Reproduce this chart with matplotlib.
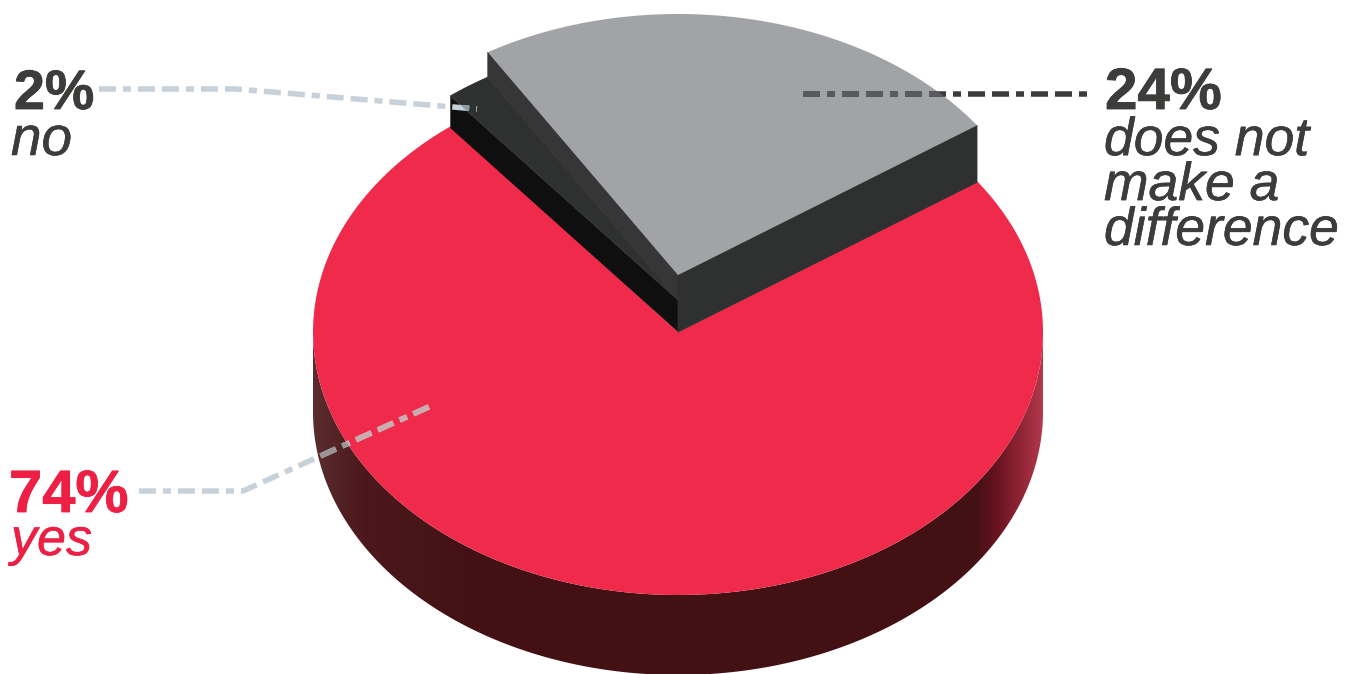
import numpy as np
import matplotlib
matplotlib.use('Agg')
import matplotlib.pyplot as plt
import matplotlib.patheffects as pe
from matplotlib.colors import LinearSegmentedColormap
from matplotlib.patches import Polygon

# chart data
categories = ['yes', 'does not\nmake a\ndifference', 'no']
values = [74, 24, 2]
pct_labels = ['74%', '24%', '2%']

plt.rcParams['font.family'] = ['Liberation Sans', 'DejaVu Sans']
plt.rcParams['lines.scale_dashes'] = False

RED = '#EF2A4A'
RED_TEXT = '#EE1F45'
GREY = '#A1A3A7'
DARK = '#2F3130'
DARK2 = '#353635'
BLACK = '#0E0F0E'
INK = '#3C3D3B'
LEAD = '#C6D1DA'

fig = plt.figure(figsize=(13.53, 6.74), dpi=100)
ax = fig.add_axes([0, 0, 1, 1])
ax.set_xlim(0, 1353)
ax.set_ylim(674, 0)
ax.axis('off')

# pie geometry in pixels
cx = 678
rx = 365
ry = 263
start = 35
red_y, grey_y, no_y = 332, 275, 300
pie_depth = 80

spans = [v / sum(values) * 360 for v in values]
grey_a = (start, start + spans[1])
no_a = (grey_a[1], grey_a[1] + spans[2])
red_a = (no_a[1], no_a[1] + spans[0])


def arc(cy, a0, a1, r_y=ry, n=300):
    t = np.radians(np.linspace(a0, a1, n))
    return np.column_stack([cx + rx * np.cos(t), cy - r_y * np.sin(t)])


def wedge(cy, a0, a1, r_y=ry):
    return np.vstack([[cx, cy], arc(cy, a0, a1, r_y)])


def cut_face(cy, angle, depth, r_y=ry):
    end = arc(cy, angle, angle, r_y, 1)[0]
    return np.array([[cx, cy], end, [end[0], end[1] + depth], [cx, cy + depth]])


# red body with its side shading
low_top = arc(red_y, 180, 360)
low_bot = arc(red_y + pie_depth, 180, 360)
side_pts = np.vstack([low_top, low_bot[::-1]])
shade = LinearSegmentedColormap.from_list('side', [
    (0.0, '#5A2C2E'), (0.07, '#4C181B'), (0.22, '#431114'), (0.91, '#431114'),
    (0.94, '#6B1421'), (0.98, '#9A2A3C'), (1.0, '#B03A4C')])
img = ax.imshow(np.linspace(0, 1, 512).reshape(1, -1), cmap=shade, aspect='auto',
                extent=(cx - rx, cx + rx, red_y + pie_depth + ry, red_y), zorder=1)
side_patch = Polygon(side_pts, closed=True, transform=ax.transData, fc='none', ec='none')
ax.add_patch(side_patch)
img.set_clip_path(side_patch)
ax.set_xlim(0, 1353)
ax.set_ylim(674, 0)

red_top = wedge(red_y, *red_a)
ax.fill(red_top[:, 0], red_top[:, 1], color=RED, lw=0, zorder=2)

# "no" slice
no_r = 261
face = cut_face(no_y, no_a[1], 32, no_r)
ax.fill(face[:, 0], face[:, 1], color=BLACK, lw=0, zorder=3)
no_top = wedge(no_y, *no_a, no_r)
ax.fill(no_top[:, 0], no_top[:, 1], color=DARK, lw=0.6, zorder=3)

# grey slice, lifted
grey_r = 261
face = cut_face(grey_y, grey_a[1], 25, grey_r)
ax.fill(face[:, 0], face[:, 1], color=DARK2, lw=0.6, zorder=4)
face = cut_face(grey_y, grey_a[0], 57, grey_r)
ax.fill(face[:, 0], face[:, 1], color=DARK, lw=0.6, zorder=4)
grey_top = wedge(grey_y, *grey_a, grey_r)
ax.fill(grey_top[:, 0], grey_top[:, 1], color=GREY, lw=0, zorder=4)

# leader lines
px = 0.72
dash = (0, (17 * px, 7 * px, 8 * px, 7 * px, 17 * px, 7 * px))


def leader(xs, ys, color, clip=None, z=6):
    line, = ax.plot(xs, ys, color=color, lw=5.5 * px, ls=dash, dash_capstyle='butt',
                    dash_joinstyle='round', zorder=z)
    if clip is not None:
        p = Polygon(clip, closed=True, transform=ax.transData, fc='none', ec='none')
        ax.add_patch(p)
        line.set_clip_path(p)


no_x, no_yy = [99, 236, 477], [89, 89, 109]
leader(no_x, no_yy, LEAD)
leader(no_x, no_yy, '#8F9AA3', no_top, 7)

yes_x, yes_yy = [139, 243, 433], [491, 491, 405]
leader(yes_x, yes_yy, LEAD)
leader(yes_x, yes_yy, '#9C9496', side_pts, 7)
leader(yes_x, yes_yy, '#C9ABB0', red_top, 8)

dnm_x, dnm_yy = [803, 1090], [94, 94]
leader(dnm_x, dnm_yy, INK)
leader(dnm_x, dnm_yy, '#5A5B5E', grey_top, 7)


# labels
def label(x, y, s, color, size, bold=False, **kw):
    t = ax.text(x, y, s, color=color, fontsize=size, va='baseline', zorder=9,
                fontweight='bold' if bold else 'normal',
                style='normal' if bold else 'italic', **kw)
    t.set_path_effects([pe.withStroke(linewidth=0.6 if bold else 0.4, foreground=color)])


label(14, 109, pct_labels[2], INK, 40, True)
label(11, 155, categories[2], INK, 39.5)

label(9, 512, pct_labels[0], RED_TEXT, 43, True)
label(11, 555, categories[0], RED_TEXT, 37.5)

label(1105, 109, pct_labels[1], INK, 42, True)
label(1104, 245, categories[1], INK, 38.5, linespacing=0.87)

fig.savefig('out.png', dpi=100)
